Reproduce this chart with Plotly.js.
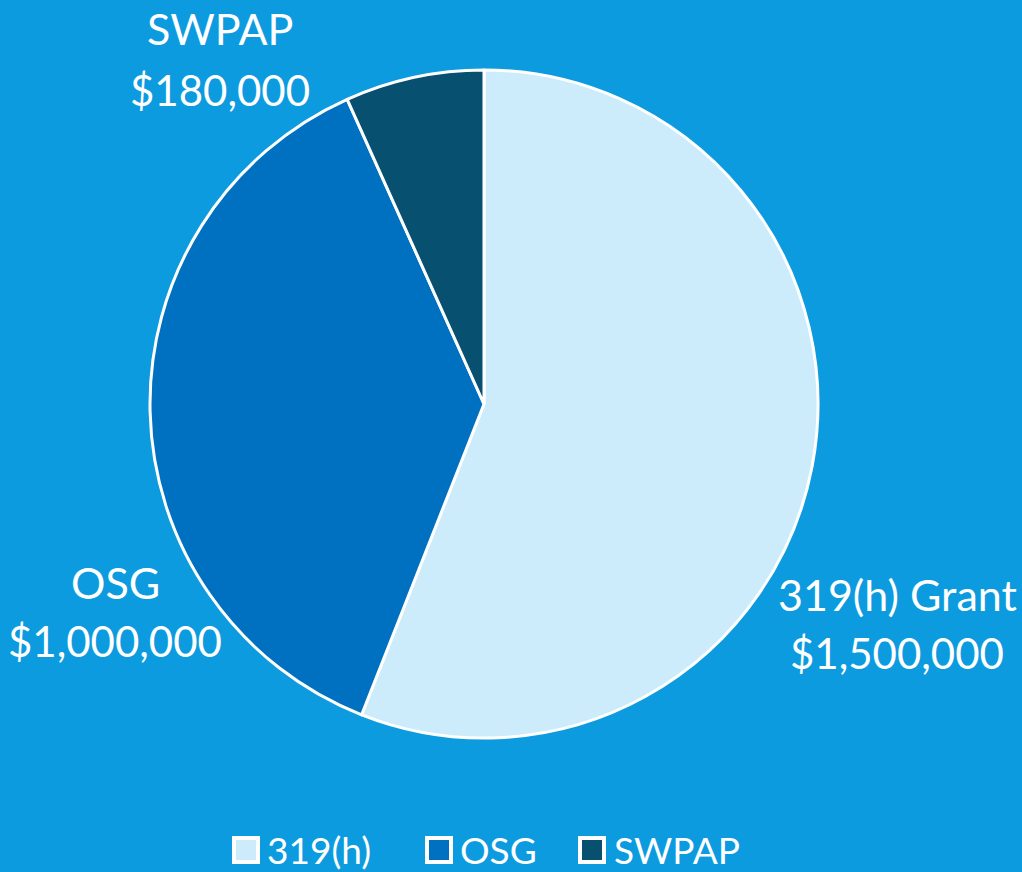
<!DOCTYPE html>
<html>
<head>
<meta charset="utf-8">
<script src="https://cdn.plot.ly/plotly-3.0.1.min.js"></script>
<style>
html,body{margin:0;padding:0;background:#0C9BDF;}
#chart{width:1022px;height:872px;}
</style>
</head>
<body>
<div id="chart"></div>
<script>
const categories = ["319(h)", "OSG", "SWPAP"];
const labelNames = ["319(h) Grant", "OSG", "SWPAP"];
const values = [1500000, 1000000, 180000];
const colors = ["#CCECFB", "#0070C0", "#08506F"];

const fmt = v => "$" + v.toLocaleString("en-US");
const FONT = "Lato, 'Open Sans', sans-serif";

// layout helpers (pixel -> paper), plot domain is 668x668 at (150,70)
const px = x => (x - 150) / 668;
const py = y => (738 - y) / 668;

const labelPos = [
  {x: 897, yName: 594, yVal: 653},
  {x: 115, yName: 582, yVal: 641},
  {x: 220, yName: 28, yVal: 90}
];
const legendSwatchX = [246, 439, 592];
const legendTextX = [265, 458, 612];
const legendY = 849;

const annotations = [];
categories.forEach((c, i) => {
  const p = labelPos[i];
  annotations.push({
    xref: "paper", yref: "paper", showarrow: false,
    x: px(p.x), y: py(p.yName),
    xanchor: "center", yanchor: "middle",
    text: labelNames[i],
    font: {family: FONT, size: 43, color: "#FFFFFF"}
  });
  annotations.push({
    xref: "paper", yref: "paper", showarrow: false,
    x: px(p.x), y: py(p.yVal),
    xanchor: "center", yanchor: "middle",
    text: fmt(values[i]),
    font: {family: FONT, size: 42, color: "#FFFFFF"}
  });
  // legend swatch
  annotations.push({
    xref: "paper", yref: "paper", showarrow: false,
    x: px(legendSwatchX[i]), y: py(legendY + 1),
    xanchor: "center", yanchor: "middle",
    text: " ", width: 20, height: 20, borderpad: 0,
    bgcolor: colors[i], bordercolor: "#FFFFFF", borderwidth: 4,
    font: {size: 10, color: colors[i]}
  });
  // legend text
  annotations.push({
    xref: "paper", yref: "paper", showarrow: false,
    x: px(legendTextX[i]), y: py(legendY),
    xanchor: "left", yanchor: "middle",
    text: c,
    font: {family: FONT, size: 37, color: "#FFFFFF"}
  });
});

const data = [{
  type: "pie",
  labels: categories,
  values: values,
  sort: false,
  direction: "clockwise",
  rotation: 0,
  textinfo: "none",
  hoverinfo: "label+value",
  showlegend: false,
  marker: {colors: colors, line: {color: "#FFFFFF", width: 3}}
}];

const layout = {
  width: 1022, height: 872,
  paper_bgcolor: "#0C9BDF",
  plot_bgcolor: "#0C9BDF",
  margin: {l: 150, r: 204, t: 70, b: 134, autoexpand: false},
  showlegend: false,
  annotations: annotations
};

Plotly.newPlot("chart", data, layout, {displayModeBar: false, staticPlot: true});
</script>
</body>
</html>
